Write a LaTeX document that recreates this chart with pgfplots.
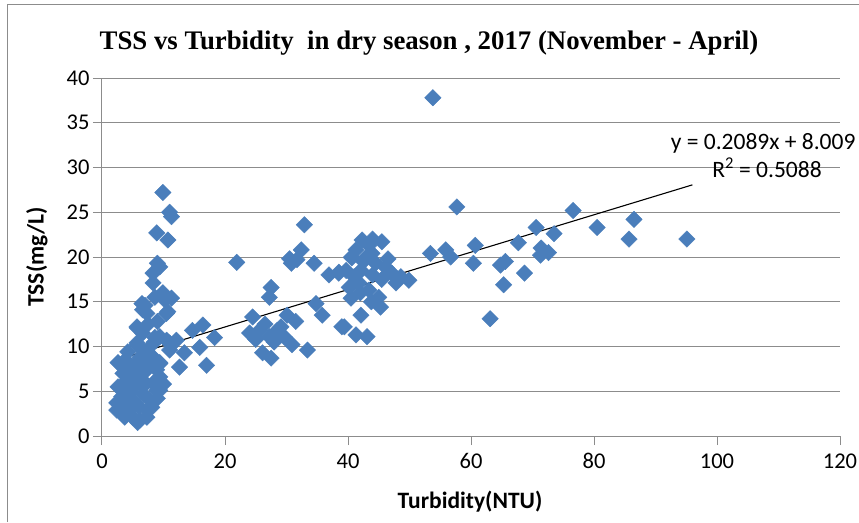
\documentclass[border=0pt]{standalone}
\usepackage{pgfplots}
\pgfplotsset{compat=1.18}
\usepackage{pgfplotstable}
\usepackage{fontspec}
\setmainfont{Carlito}
\newfontfamily\titlefont{Liberation Serif}
\definecolor{xlblue}{HTML}{4A7EBB}
\definecolor{xlgrid}{HTML}{8C8C8C}

\pgfplotstableread{
x y
2.6 8.2
3.4 7.0
2.6 5.5
2.4 3.7
2.9 2.9
3.2 4.4
2.4 2.9
3.7 2.1
5.0 2.1
5.8 1.5
6.2 1.8
7.3 2.1
7.3 2.9
8.1 3.2
7.8 4.0
8.3 5.9
9.4 5.1
8.9 5.1
9.4 6.6
8.9 7.4
9.4 8.1
7.8 8.1
6.2 8.8
4.5 7.4
5.7 5.9
4.0 4.4
5.0 4.0
6.6 5.5
7.3 7.4
4.0 2.9
3.4 5.5
9.4 8.2
8.3 8.8
7.3 9.6
5.7 10.4
4.2 9.4
5.7 10.2
4.0 6.2
5.5 6.8
6.0 3.3
6.8 4.6
4.8 5.0
3.0 3.5
5.3 8.0
6.5 6.3
10.0 5.8
9.0 4.2
8.5 10.5
6.0 7.5
4.6 3.0
3.8 8.5
5.7 12.1
6.6 11.5
8.6 11.0
10.5 10.7
12.1 10.7
11.0 9.6
13.4 9.3
12.6 7.7
14.7 11.8
16.4 12.4
15.9 9.9
18.3 11.0
17.0 7.9
7.0 14.6
8.6 15.5
10.2 15.2
10.7 13.9
6.6 14.1
9.4 11.1
11.0 10.4
9.9 16.0
11.3 15.4
10.5 13.7
6.5 14.8
7.3 13.7
5.7 12.2
7.5 12.5
9.0 12.8
9.9 27.2
11.3 24.5
11.0 25.0
8.9 22.7
10.7 21.9
9.4 18.9
8.3 18.2
8.3 17.1
9.0 19.3
21.9 19.4
32.9 23.6
32.4 20.8
30.8 19.3
31.7 19.7
34.5 19.3
27.5 16.6
27.2 15.5
24.5 13.3
25.6 11.8
24.0 11.5
27.2 11.1
29.1 12.2
30.1 13.5
29.6 11.1
30.9 10.2
27.5 8.7
26.1 9.3
33.4 9.6
34.8 14.8
35.8 13.5
36.9 18.0
38.5 18.3
39.0 12.2
26.5 12.5
28.0 10.5
25.0 10.8
31.5 12.8
28.5 11.8
30.5 19.8
40.6 20.0
42.3 21.9
43.4 21.3
41.3 20.8
43.9 20.4
40.6 19.9
39.7 18.5
42.1 18.5
44.5 19.3
46.2 18.8
47.1 18.2
48.6 17.8
49.9 17.4
47.8 17.1
40.2 16.6
41.8 17.1
43.4 16.3
40.5 15.4
45.0 15.5
45.3 14.4
42.1 13.5
39.4 12.2
41.3 11.3
43.1 11.1
38.5 18.2
45.5 21.7
44.0 22.0
42.5 19.5
44.0 18.0
41.0 17.8
43.0 20.0
45.5 17.5
46.5 19.8
42.0 16.0
43.8 15.0
53.8 37.8
57.7 25.6
53.4 20.4
55.9 20.8
56.7 20.0
60.7 21.3
60.4 19.3
63.1 13.1
64.8 19.1
65.6 19.5
65.3 16.9
67.7 21.6
68.7 18.2
70.6 23.3
71.4 21.0
71.3 20.2
72.6 20.5
73.5 22.6
76.6 25.2
80.5 23.3
86.5 24.2
85.7 22.0
95.1 22.0
}\tssdata

\begin{document}
\begin{tikzpicture}
\useasboundingbox (-102pt,-86pt) rectangle (757pt,436pt);
\draw[xlgrid, line width=1pt] (-94pt,-86pt) -- (-94pt,431pt) -- (757pt,431pt);
\begin{axis}[
  at={(0pt,0pt)}, anchor=south west,
  scale only axis, width=738pt, height=358pt,
  xmin=0, xmax=120, ymin=0, ymax=40,
  xtick={0,20,...,120}, ytick={0,5,...,40},
  axis lines*=left,
  axis line style={xlgrid, line width=1pt},
  ymajorgrids, grid style={xlgrid, line width=1pt},
  tick align=outside, major tick length=9pt,
  tick style={xlgrid, line width=1pt},
  ticklabel style={font=\fontsize{22.5}{27}\selectfont},
  xticklabel style={yshift=-5pt},
  /pgf/number format/assume math mode=true,
  clip=false,
]
\addplot[only marks, mark=square*, mark size=5.8pt,
  mark options={rotate=45, fill=xlblue, draw=xlblue}] table[x=x, y=y] {\tssdata};
\addplot[black, line width=1.1pt] coordinates {(2.8,8.59) (96,28.06)};
\end{axis}
\node[font=\titlefont\bfseries\fontsize{26.8}{31}\selectfont] at (327pt,393pt) {TSS vs Turbidity\ \ in dry season , 2017 (November - April)};
\node[rotate=90, font=\bfseries\fontsize{23.5}{28}\selectfont] at (-65pt,179pt) {TSS(mg/L)};
\node[font=\bfseries\fontsize{23.5}{28}\selectfont] at (368pt,-66pt) {Turbidity(NTU)};
\node[anchor=east, font=\fontsize{23.5}{28}\selectfont] at (757pt,293pt) {y = 0.2089x + 8.009};
\node[font=\fontsize{23.5}{28}\selectfont] at (665pt,268pt) {R\textsuperscript{2} = 0.5088};
\end{tikzpicture}
\end{document}
